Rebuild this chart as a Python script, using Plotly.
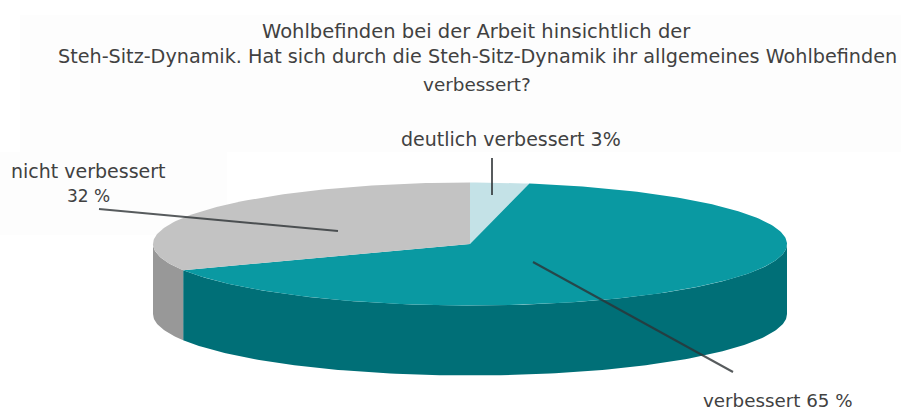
import numpy as np
import plotly.graph_objects as go

# survey shares, clockwise from 12 o'clock
categories = ['deutlich verbessert', 'verbessert', 'nicht verbessert']
shares = [3, 65, 32]
top_colors = ['#c4e2e7', '#0a99a2', '#c3c3c3']
side_colors = ['#a3c4c9', '#006f77', '#989898']

title_lines = [
    'Wohlbefinden bei der Arbeit hinsichtlich der',
    'Steh-Sitz-Dynamik. Hat sich durch die Steh-Sitz-Dynamik ihr allgemeines Wohlbefinden',
    'verbessert?',
]
slice_labels = ['deutlich verbessert 3%', 'verbessert 65 %', 'nicht verbessert', '32 %']

# pie geometry in picture pixels
CX, CY = 470, 244
RX, RY = 317, 61.5
DEPTH = 70
FONT = 'DejaVu Sans'
TEXT_COLOR = '#414141'


def rim(a0, a1):
    # points on the top ellipse between two angles (degrees clockwise from top)
    t = np.radians(np.linspace(a0, a1, max(int(abs(a1 - a0)), 2) + 1))
    return CX + RX * np.sin(t), CY - RY * np.cos(t)


def polygon(x, y, color):
    return go.Scatter(x=x, y=y, mode='lines', fill='toself', fillcolor=color,
                      line=dict(width=0, color=color), hoverinfo='skip', showlegend=False)


def side_wall(a0, a1, color):
    # front wall of the disc, only the part between 90 and 270 degrees shows
    a0, a1 = max(a0, 90), min(a1, 270)
    if a1 <= a0:
        return None
    x, y = rim(a0, a1)
    return polygon(np.r_[x, x[::-1]], np.r_[y, y[::-1] + DEPTH], color)


fig = go.Figure()

edges = np.r_[0, np.cumsum(shares)] / sum(shares) * 360
for n in range(len(shares)):
    wall = side_wall(edges[n], edges[n + 1], side_colors[n])
    if wall is not None:
        fig.add_trace(wall)
for n in range(len(shares)):
    x, y = rim(edges[n], edges[n + 1])
    fig.add_trace(polygon(np.r_[CX, x, CX], np.r_[CY, y, CY], top_colors[n]))


def leader(x0, y0, x1, y1):
    fig.add_shape(type='line', x0=x0, y0=y0, x1=x1, y1=y1, layer='above',
                  line=dict(color='rgba(45,50,52,0.8)', width=2))


leader(99, 209, 338, 231)
leader(492, 158, 492, 195)
leader(533, 262, 733, 372)


def label(text, x, y, size=19):
    fig.add_annotation(text=text, x=x, y=y, xref='x', yref='y', showarrow=False,
                       xanchor='center', yanchor='middle',
                       font=dict(family=FONT, size=size, color=TEXT_COLOR))


label(title_lines[0], 476, 31, 19.5)
label(title_lines[1], 477, 56, 19.2)
label(title_lines[2], 477, 84, 18.4)
label(slice_labels[0], 511, 139)
label(slice_labels[1], 778, 400, 18.3)
label(slice_labels[2], 88, 171)
label(slice_labels[3], 88, 196, 17)

# faint scan tint behind the title block
fig.add_shape(type='rect', x0=20, y0=15, x1=901, y1=152, layer='below',
              fillcolor='#fdfdfd', line_width=0)
fig.add_shape(type='rect', x0=0, y0=152, x1=227, y1=235, layer='below',
              fillcolor='#fdfdfd', line_width=0)

fig.update_layout(
    width=901, height=416,
    margin=dict(l=0, r=0, t=0, b=0),
    paper_bgcolor='white', plot_bgcolor='white',
    xaxis=dict(range=[0, 901], visible=False, fixedrange=True),
    yaxis=dict(range=[416, 0], visible=False, fixedrange=True),
)

fig.write_html('out.html', config={'displayModeBar': False},
               post_script="document.body.style.margin='0';")
